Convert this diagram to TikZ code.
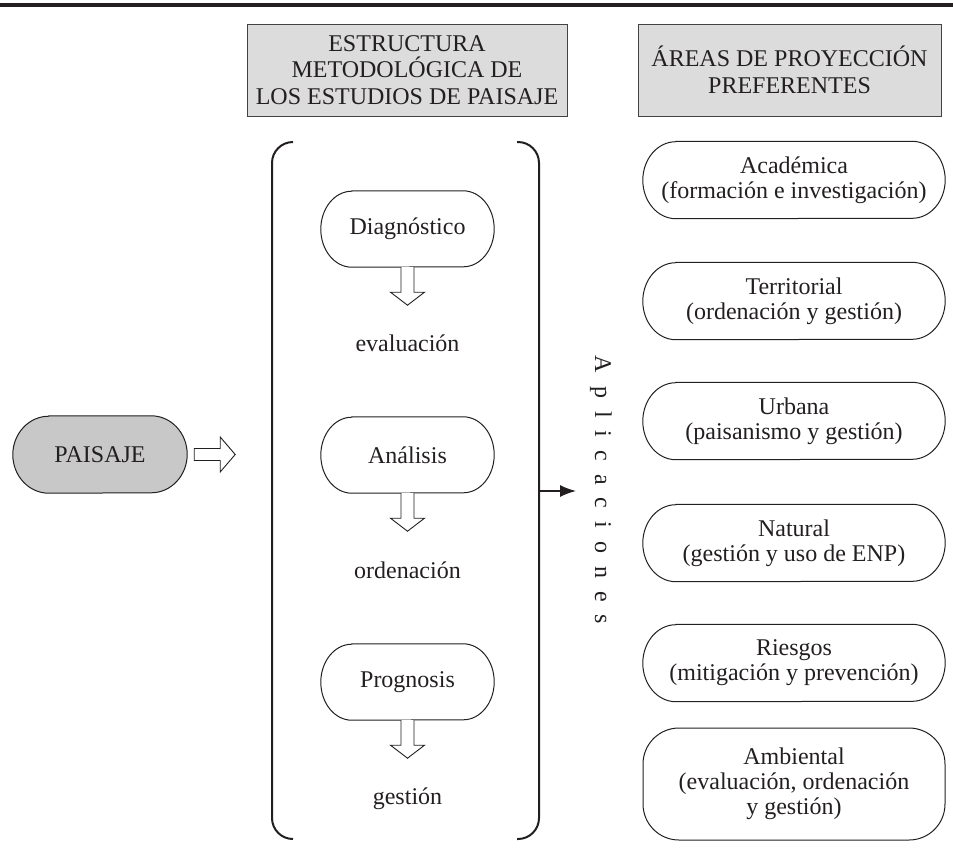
\documentclass[tikz,border=0pt]{standalone}
\usepackage{fontspec}
\setmainfont{Liberation Serif}
\usetikzlibrary{arrows.meta,calc,backgrounds}
\definecolor{ink}{HTML}{231F20}
\definecolor{hdrgray}{HTML}{DCDCDC}
\definecolor{pgray}{HTML}{C8C8C8}
\newcommand{\apsp}{\hspace{13pt}}
% elliptic-ended outline around a named node: [opts]{node}{rx}{ry}
\newcommand{\pillout}[4][]{%
  \path[#1] ($(#2.north west)+(#3,0)$) -- ($(#2.north east)+(-#3,0)$)
     arc[start angle=90, end angle=-90, x radius=#3pt, y radius=#4pt]
     -- ($(#2.south west)+(#3,0)$)
     arc[start angle=270, end angle=90, x radius=#3pt, y radius=#4pt] -- cycle;}
\begin{document}
\begin{tikzpicture}[x=1pt,y=-1pt,
  every node/.style={text=ink, font=\fontsize{24}{25}\selectfont},
  hdr/.style={draw=ink!85, fill=hdrgray, line width=0.8pt, minimum height=92, align=center, inner sep=0pt, font=\fontsize{24}{26.5}\selectfont},
  stage/.style={minimum width=173, minimum height=76, inner sep=0pt},
  area/.style={minimum width=302, minimum height=77, align=center, inner sep=0pt},
  pline/.style={draw=ink, line width=1pt},
  outcome/.style={anchor=base, inner sep=0pt},
  hollow/.style={draw=ink, line width=0.9pt, fill=white, line join=miter},
  brk/.style={draw=ink, line width=2pt, rounded corners=21},
]
\useasboundingbox (0,0) rectangle (953,855);
% top rule
\coordinate (rl) at (0,4.7);
\coordinate (rr) at (953,4.7);
\draw[ink, line width=4pt] (rl) -- (rr);

% headers
\node[hdr, minimum width=320] (h1) at (407,70) {ESTRUCTURA\\METODOLÓGICA DE\\LOS ESTUDIOS DE PAISAJE};
\node[hdr, minimum width=303] (h2) at (789.5,70) {ÁREAS DE PROYECCIÓN\\PREFERENTES};

% paisaje
\node[stage, minimum width=174, minimum height=77] (p) at (100,454.5) {PAISAJE};
\draw[hollow] (p.east) ++(7,-6) -- ++(26,0) -- ++(0,-11.5) -- ++(15,17.5) -- ++(-15,17.5) -- ++(0,-11.5) -- ++(-26,0) -- cycle;

% bracket
\coordinate (blt) at (293,142);
\coordinate (blb) at (293,839);
\coordinate (brt) at (517,142);
\coordinate (brb) at (517,839);
\draw[brk] (blt) -- (272,142) -- (272,839) -- (blb);
\draw[brk] (brt) -- (539,142) -- (539,839) -- (brb);

% stages
\node[stage] (d) at (407.5,229) {Diagnóstico};
\node[stage] (a) at (407.5,455) {Análisis};
\node[stage] (g) at (407.5,682) {Prognosis};
\node[outcome] (e1) at (407.5,351) {evaluación};
\node[outcome] (e2) at (407.5,578) {ordenación};
\node[outcome] (e3) at (407.5,804) {gestión};
\foreach \n in {d,a,g}{
  \draw[hollow] (\n.south) ++(-6.5,0) -- ++(0,25) -- ++(-10.5,0) -- ++(17,13) -- ++(17,-13) -- ++(-10.5,0) -- ++(0,-25);
}

% aplicaciones
\coordinate (bm) at (539,491);
\node[rotate=-90] (apl) at (601,490) {A\apsp p\apsp l\apsp i\apsp c\apsp a\apsp c\apsp i\apsp o\apsp n\apsp e\apsp s};
\draw[ink, line width=1.4pt, -{Latex[length=16pt,width=12pt]}] (bm) -- (576,491);

% areas
\node[area] (r1) at (794,180) {Académica\\(formación e investigación)};
\node[area] (r2) at (794,301) {Territorial\\(ordenación y gestión)};
\node[area] (r3) at (794,421) {Urbana\\(paisanismo y gestión)};
\node[area] (r4) at (794,543) {Natural\\(gestión y uso de ENP)};
\node[area] (r5) at (794,663) {Riesgos\\(mitigación y prevención)};
\node[area, draw=ink, line width=1pt, minimum height=112, rounded corners=36] (r6) at (794,784) {Ambiental\\(evaluación, ordenación\\y gestión)};

% pill outlines
\begin{scope}[on background layer]
  \pillout[pline, fill=pgray]{p}{36}{38.5}
  \foreach \n in {d,a,g}{\pillout[pline]{\n}{31}{38}}
  \foreach \n in {r1,r2,r3,r4,r5}{\pillout[pline]{\n}{33}{38.5}}
\end{scope}
\end{tikzpicture}
\end{document}
